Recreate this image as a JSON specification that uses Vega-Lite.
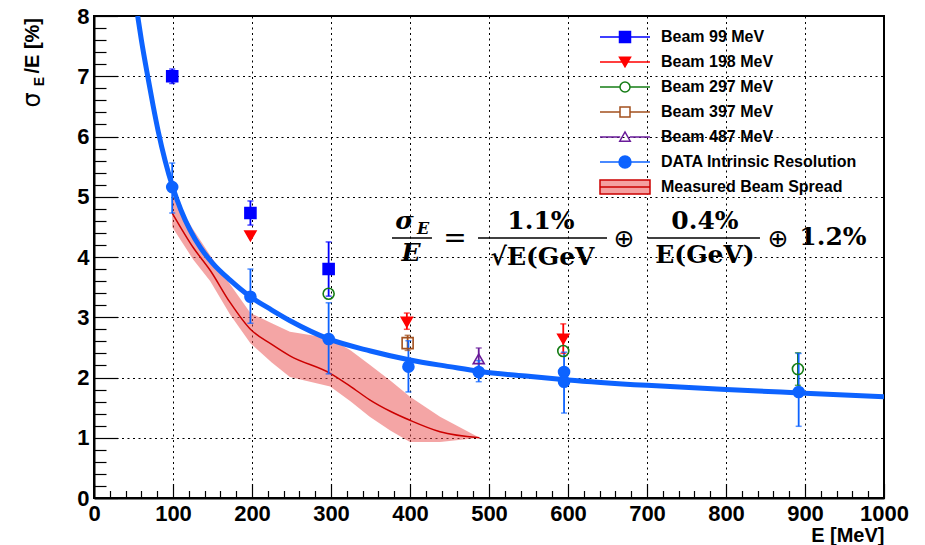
{
  "$schema": "https://vega.github.io/schema/vega-lite/v6.json",
  "width": 790,
  "height": 482,
  "autosize": {"type": "none"},
  "padding": {"left": 94, "top": 16, "right": 41, "bottom": 47},
  "background": "white",
  "config": {
    "view": {"stroke": "black", "strokeWidth": 2},
    "font": "Liberation Sans"
  },
  "resolve": {"scale": {"shape": "independent", "stroke": "independent", "fill": "independent", "color": "independent", "size": "independent"}},
  "datasets": {
    "fit": [
      {"E": 55.3, "y": 8.0}, {"E": 60, "y": 7.6}, {"E": 68.7, "y": 6.95}, {"E": 75, "y": 6.5},
      {"E": 81.4, "y": 6.08}, {"E": 90, "y": 5.6}, {"E": 99.6, "y": 5.16}, {"E": 110, "y": 4.78},
      {"E": 121.5, "y": 4.45}, {"E": 135, "y": 4.15}, {"E": 150, "y": 3.9}, {"E": 172, "y": 3.62},
      {"E": 198, "y": 3.34}, {"E": 225, "y": 3.12}, {"E": 250, "y": 2.93}, {"E": 297, "y": 2.64},
      {"E": 350, "y": 2.44}, {"E": 400, "y": 2.29}, {"E": 450, "y": 2.18}, {"E": 488, "y": 2.1},
      {"E": 550, "y": 2.02}, {"E": 600, "y": 1.96}, {"E": 700, "y": 1.87}, {"E": 800, "y": 1.8},
      {"E": 900, "y": 1.74}, {"E": 1000, "y": 1.68}
    ],
    "spread": [
      {"E": 99, "mid": 4.73, "lo": 4.5, "hi": 5.02},
      {"E": 126, "mid": 4.15, "lo": 3.95, "hi": 4.45},
      {"E": 147, "mid": 3.78, "lo": 3.6, "hi": 4.03},
      {"E": 172, "mid": 3.25, "lo": 3.05, "hi": 3.55},
      {"E": 198, "mid": 2.8, "lo": 2.57, "hi": 3.07},
      {"E": 225, "mid": 2.55, "lo": 2.25, "hi": 2.9},
      {"E": 248, "mid": 2.36, "lo": 2.01, "hi": 2.76},
      {"E": 299, "mid": 2.07, "lo": 1.85, "hi": 2.65},
      {"E": 325, "mid": 1.85, "lo": 1.6, "hi": 2.45},
      {"E": 349, "mid": 1.63, "lo": 1.35, "hi": 2.21},
      {"E": 375, "mid": 1.44, "lo": 1.12, "hi": 1.95},
      {"E": 400, "mid": 1.29, "lo": 0.93, "hi": 1.68},
      {"E": 438, "mid": 1.1, "lo": 0.93, "hi": 1.35},
      {"E": 488, "mid": 1.0, "lo": 1.0, "hi": 1.0}
    ],
    "pts": [
      {"series": "Beam 99 MeV", "E": 99, "y": 7.0, "lo": 6.88, "hi": 7.12},
      {"series": "Beam 99 MeV", "E": 198, "y": 4.73, "lo": 4.53, "hi": 4.93},
      {"series": "Beam 99 MeV", "E": 297, "y": 3.8, "lo": 3.35, "hi": 4.25},
      {"series": "Beam 198 MeV", "E": 198, "y": 4.35, "lo": null, "hi": null},
      {"series": "Beam 198 MeV", "E": 396, "y": 2.92, "lo": 2.8, "hi": 3.07},
      {"series": "Beam 198 MeV", "E": 594, "y": 2.64, "lo": 2.4, "hi": 2.89},
      {"series": "Beam 297 MeV", "E": 297, "y": 3.39, "lo": null, "hi": null},
      {"series": "Beam 297 MeV", "E": 594, "y": 2.44, "lo": null, "hi": null},
      {"series": "Beam 297 MeV", "E": 891, "y": 2.14, "lo": 1.87, "hi": 2.41},
      {"series": "Beam 397 MeV", "E": 397, "y": 2.57, "lo": 2.45, "hi": 2.7},
      {"series": "Beam 487 MeV", "E": 487, "y": 2.31, "lo": 2.15, "hi": 2.49},
      {"series": "DATA Intrinsic Resolution", "E": 99, "y": 5.16, "lo": 4.73, "hi": 5.56},
      {"series": "DATA Intrinsic Resolution", "E": 198, "y": 3.34, "lo": 2.9, "hi": 3.8},
      {"series": "DATA Intrinsic Resolution", "E": 297, "y": 2.64, "lo": 2.06, "hi": 3.24},
      {"series": "DATA Intrinsic Resolution", "E": 398, "y": 2.18, "lo": 1.76, "hi": 2.61},
      {"series": "DATA Intrinsic Resolution", "E": 487, "y": 2.09, "lo": 1.93, "hi": 2.28},
      {"series": "DATA Intrinsic Resolution", "E": 595, "y": 2.09, "lo": 1.41, "hi": 2.42},
      {"series": "DATA Intrinsic Resolution", "E": 595, "y": 1.93, "lo": null, "hi": null},
      {"series": "DATA Intrinsic Resolution", "E": 892, "y": 1.76, "lo": 1.19, "hi": 2.4}
    ],
    "legendRows": [
      {"series": "Beam 99 MeV"}, {"series": "Beam 198 MeV"}, {"series": "Beam 297 MeV"},
      {"series": "Beam 397 MeV"}, {"series": "Beam 487 MeV"}, {"series": "DATA Intrinsic Resolution"},
      {"series": "Measured Beam Spread"}
    ]
  },
  "layer": [
    {
      "data": {"name": "spread"},
      "mark": {"type": "area", "fill": "#ea4b4b", "opacity": 0.5, "interpolate": "linear"},
      "encoding": {
        "x": {
          "field": "E", "type": "quantitative",
          "scale": {"domain": [0, 1000], "nice": false, "zero": false},
          "axis": {
            "title": "E [MeV]",
            "values": [0,20,40,60,80,100,120,140,160,180,200,220,240,260,280,300,320,340,360,380,400,420,440,460,480,500,520,540,560,580,600,620,640,660,680,700,720,740,760,780,800,820,840,860,880,900,920,940,960,980,1000],
            "tickCount": 500,
            "format": "d",
            "labelExpr": "datum.value % 100 === 0 ? datum.label : ''",
            "tickSize": {"condition": {"test": "datum.value % 100 === 0", "value": -14.5}, "value": -7.5},
            "gridOpacity": {"condition": {"test": "datum.value % 100 === 0", "value": 1}, "value": 0},
            "grid": true, "gridColor": "black", "gridDash": [2, 3.5], "gridWidth": 1,
            "domainColor": "black", "domainWidth": 2,
            "tickColor": "black", "tickWidth": 1.2,
            "labelFont": "Liberation Sans", "labelFontWeight": "bold", "labelFontSize": 22, "labelColor": "black",
            "labelPadding": 20, "labelFlush": false, "labelOverlap": false,
            "titleFont": "Liberation Sans", "titleFontWeight": "bold", "titleFontSize": 20, "titleColor": "black",
            "titleAnchor": "end", "titleAlign": "right", "titleBaseline": "alphabetic", "titleY": 43
          }
        },
        "y": {
          "field": "lo", "type": "quantitative",
          "scale": {"domain": [0, 8], "nice": false},
          "axis": {
            "title": null,
            "values": [0,0.2,0.4,0.6,0.8,1,1.2,1.4,1.6,1.8,2,2.2,2.4,2.6,2.8,3,3.2,3.4,3.6,3.8,4,4.2,4.4,4.6,4.8,5,5.2,5.4,5.6,5.8,6,6.2,6.4,6.6,6.8,7,7.2,7.4,7.6,7.8,8],
            "tickCount": 500,
            "labelExpr": "datum.value % 1 === 0 ? format(datum.value, 'd') : ''",
            "tickSize": {"condition": {"test": "datum.value % 1 === 0", "value": -23.7}, "value": -12},
            "gridOpacity": {"condition": {"test": "datum.value % 1 === 0", "value": 1}, "value": 0},
            "grid": true, "gridColor": "black", "gridDash": [2, 3.5], "gridWidth": 1,
            "domainColor": "black", "domainWidth": 2,
            "tickColor": "black", "tickWidth": 1.2,
            "labelFont": "Liberation Sans", "labelFontWeight": "bold", "labelFontSize": 22, "labelColor": "black",
            "labelPadding": 28.7, "labelFlush": false, "labelOverlap": false
          }
        },
        "y2": {"field": "hi"}
      }
    },
    {
      "data": {"name": "spread"},
      "mark": {"type": "line", "color": "#cc0000", "strokeWidth": 1.5, "interpolate": "monotone"},
      "encoding": {
        "x": {"field": "E", "type": "quantitative"},
        "y": {"field": "mid", "type": "quantitative"}
      }
    },
    {
      "data": {"name": "fit"},
      "mark": {"type": "line", "color": "#0d63ff", "strokeWidth": 5, "interpolate": "monotone", "clip": true},
      "encoding": {
        "x": {"field": "E", "type": "quantitative"},
        "y": {"field": "y", "type": "quantitative"}
      }
    },
    {
      "data": {"name": "pts"},
      "transform": [{"filter": "datum.lo != null"}],
      "mark": {"type": "rule", "strokeWidth": 1.8},
      "encoding": {
        "x": {"field": "E", "type": "quantitative"},
        "y": {"field": "lo", "type": "quantitative"},
        "y2": {"field": "hi"},
        "stroke": {
          "field": "series", "type": "nominal", "legend": null,
          "scale": {
            "domain": ["Beam 99 MeV", "Beam 198 MeV", "Beam 297 MeV", "Beam 397 MeV", "Beam 487 MeV", "DATA Intrinsic Resolution", "Measured Beam Spread"],
            "range": ["#0000ff", "#ff0000", "#167d16", "#a3501e", "#6a1b9a", "#0d63ff", "#cc0000"]
          }
        }
      }
    },
    {
      "data": {"name": "pts"},
      "transform": [{"filter": "datum.lo != null"}, {"fold": ["lo", "hi"], "as": ["end", "v"]}],
      "mark": {"type": "tick", "orient": "horizontal", "size": 6, "thickness": 1.5},
      "encoding": {
        "x": {"field": "E", "type": "quantitative"},
        "y": {"field": "v", "type": "quantitative"},
        "color": {
          "field": "series", "type": "nominal", "legend": null,
          "scale": {
            "domain": ["Beam 99 MeV", "Beam 198 MeV", "Beam 297 MeV", "Beam 397 MeV", "Beam 487 MeV", "DATA Intrinsic Resolution", "Measured Beam Spread"],
            "range": ["#0000ff", "#ff0000", "#167d16", "#a3501e", "#6a1b9a", "#0d63ff", "#cc0000"]
          }
        }
      }
    },
    {
      "data": {"name": "pts"},
      "mark": {"type": "point", "strokeWidth": 1.6, "opacity": 1},
      "encoding": {
        "x": {"field": "E", "type": "quantitative"},
        "y": {"field": "y", "type": "quantitative"},
        "shape": {
          "field": "series", "type": "nominal", "legend": null,
          "scale": {
            "domain": ["Beam 99 MeV", "Beam 198 MeV", "Beam 297 MeV", "Beam 397 MeV", "Beam 487 MeV", "DATA Intrinsic Resolution"],
            "range": ["square", "triangle-down", "circle", "square", "triangle-up", "circle"]
          }
        },
        "size": {
          "field": "series", "type": "nominal", "legend": null,
          "scale": {
            "domain": ["Beam 99 MeV", "Beam 198 MeV", "Beam 297 MeV", "Beam 397 MeV", "Beam 487 MeV", "DATA Intrinsic Resolution"],
            "range": [121, 121, 100, 100, 121, 144]
          }
        },
        "fill": {
          "field": "series", "type": "nominal", "legend": null,
          "scale": {
            "domain": ["Beam 99 MeV", "Beam 198 MeV", "Beam 297 MeV", "Beam 397 MeV", "Beam 487 MeV", "DATA Intrinsic Resolution"],
            "range": ["#0000ff", "#ff0000", "transparent", "transparent", "transparent", "#0d63ff"]
          }
        },
        "stroke": {
          "field": "series", "type": "nominal", "legend": null,
          "scale": {
            "domain": ["Beam 99 MeV", "Beam 198 MeV", "Beam 297 MeV", "Beam 397 MeV", "Beam 487 MeV", "DATA Intrinsic Resolution"],
            "range": ["#0000ff", "#ff0000", "#167d16", "#a3501e", "#6a1b9a", "#0d63ff"]
          }
        }
      }
    },
    {
      "data": {"name": "legendRows"},
      "mark": {"type": "point", "opacity": 0},
      "encoding": {
        "shape": {
          "field": "series", "type": "nominal",
          "scale": {
            "domain": ["Beam 99 MeV", "Beam 198 MeV", "Beam 297 MeV", "Beam 397 MeV", "Beam 487 MeV", "DATA Intrinsic Resolution", "Measured Beam Spread"],
            "range": [
              "M-1,0H-0.22M0.22,0H1M-0.22,-0.22H0.22V0.22H-0.22Z",
              "M-1,0H1M-0.22,-0.19H0.22L0,0.19Z",
              "M-1,0H-0.2M0.2,0H1M-0.2,0A0.2,0.2,0,1,0,0.2,0A0.2,0.2,0,1,0,-0.2,0Z",
              "M-1,0H-0.2M0.2,0H1M-0.2,-0.2H0.2V0.2H-0.2Z",
              "M-1,0H-0.19M0.19,0H1M-0.21,0.17H0.21L0,-0.2Z",
              "M-1,0H1M-0.24,0A0.24,0.24,0,1,0,0.24,0A0.24,0.24,0,1,0,-0.24,0Z",
              "M-1,-0.28H1V0.28H-1ZM-1,0H1"
            ]
          },
          "legend": {
            "orient": "none", "legendX": 505, "legendY": 8.5, "title": null, "padding": 0,
            "symbolSize": 2500, "symbolStrokeWidth": 1.5, "symbolOpacity": 1,
            "labelFont": "Liberation Sans", "labelFontWeight": "bold", "labelFontSize": 16, "labelColor": "black",
            "labelOffset": 10, "labelLimit": 400, "rowPadding": 0, "clipHeight": 24.9
          }
        },
        "stroke": {
          "field": "series", "type": "nominal",
          "scale": {
            "domain": ["Beam 99 MeV", "Beam 198 MeV", "Beam 297 MeV", "Beam 397 MeV", "Beam 487 MeV", "DATA Intrinsic Resolution", "Measured Beam Spread"],
            "range": ["#0000ff", "#ff0000", "#167d16", "#a3501e", "#6a1b9a", "#0d63ff", "#cc0000"]
          },
          "legend": {
            "orient": "none", "legendX": 505, "legendY": 8.5, "title": null, "padding": 0,
            "symbolSize": 2500, "symbolStrokeWidth": 1.5, "symbolOpacity": 1,
            "labelFont": "Liberation Sans", "labelFontWeight": "bold", "labelFontSize": 16, "labelColor": "black",
            "labelOffset": 10, "labelLimit": 400, "rowPadding": 0, "clipHeight": 24.9
          }
        },
        "fill": {
          "field": "series", "type": "nominal",
          "scale": {
            "domain": ["Beam 99 MeV", "Beam 198 MeV", "Beam 297 MeV", "Beam 397 MeV", "Beam 487 MeV", "DATA Intrinsic Resolution", "Measured Beam Spread"],
            "range": ["#0000ff", "#ff0000", "transparent", "transparent", "transparent", "#0d63ff", "#f4a0a0"]
          },
          "legend": {
            "orient": "none", "legendX": 505, "legendY": 8.5, "title": null, "padding": 0,
            "symbolSize": 2500, "symbolStrokeWidth": 1.5, "symbolOpacity": 1,
            "labelFont": "Liberation Sans", "labelFontWeight": "bold", "labelFontSize": 16, "labelColor": "black",
            "labelOffset": 10, "labelLimit": 400, "rowPadding": 0, "clipHeight": 24.9
          }
        }
      }
    },
    {
      "data": {"values": [
        {"E": 565.8, "y": 4.6, "t": "1.1%"},
        {"E": 773.4, "y": 4.6, "t": "0.4%"},
        {"E": 935.4, "y": 4.33, "t": "1.2%"},
        {"E": 773.4, "y": 4.03, "t": "E(GeV)"},
        {"E": 567.7, "y": 4.0, "t": "√E(GeV"}
      ]},
      "mark": {"type": "text", "font": "DejaVu Serif", "fontWeight": "bold", "fontSize": 25, "align": "center", "baseline": "middle", "color": "black"},
      "encoding": {
        "x": {"field": "E", "type": "quantitative"},
        "y": {"field": "y", "type": "quantitative"},
        "text": {"field": "t"}
      }
    },
    {
      "data": {"values": [
        {"E": 393, "y": 4.6, "t": "σ"},
        {"E": 401.3, "y": 4.07, "t": "E"}
      ]},
      "mark": {"type": "text", "font": "DejaVu Serif", "fontWeight": "bold", "fontStyle": "italic", "fontSize": 25, "align": "center", "baseline": "middle", "color": "black"},
      "encoding": {
        "x": {"field": "E", "type": "quantitative"},
        "y": {"field": "y", "type": "quantitative"},
        "text": {"field": "t"}
      }
    },
    {
      "data": {"values": [
        {"E": 408.9, "y": 4.46, "t": "E"}
      ]},
      "mark": {"type": "text", "font": "DejaVu Serif", "fontWeight": "bold", "fontStyle": "italic", "fontSize": 16, "align": "left", "baseline": "middle", "color": "black"},
      "encoding": {
        "x": {"field": "E", "type": "quantitative"},
        "y": {"field": "y", "type": "quantitative"},
        "text": {"field": "t"}
      }
    },
    {
      "data": {"values": [
        {"E": 457, "y": 4.3, "t": "="}
      ]},
      "mark": {"type": "text", "font": "DejaVu Serif", "fontSize": 28, "align": "center", "baseline": "middle", "color": "black"},
      "encoding": {
        "x": {"field": "E", "type": "quantitative"},
        "y": {"field": "y", "type": "quantitative"},
        "text": {"field": "t"}
      }
    },
    {
      "data": {"values": [
        {"E": 670.9, "y": 4.3, "t": "⊕"},
        {"E": 865.8, "y": 4.3, "t": "⊕"}
      ]},
      "mark": {"type": "text", "font": "DejaVu Sans", "fontSize": 25, "align": "center", "baseline": "middle", "color": "black"},
      "encoding": {
        "x": {"field": "E", "type": "quantitative"},
        "y": {"field": "y", "type": "quantitative"},
        "text": {"field": "t"}
      }
    },
    {
      "data": {"values": [
        {"E": 377.2, "E2": 427.8, "y": 4.315},
        {"E": 486.1, "E2": 649.4, "y": 4.315},
        {"E": 701.3, "E2": 843, "y": 4.315}
      ]},
      "mark": {"type": "rule", "color": "black", "strokeWidth": 1.6},
      "encoding": {
        "x": {"field": "E", "type": "quantitative"},
        "x2": {"field": "E2"},
        "y": {"field": "y", "type": "quantitative"}
      }
    },
    {
      "data": {"values": [
        {"E": -77.2, "y": 6.606, "t": "σ"}
      ]},
      "mark": {"type": "text", "font": "DejaVu Sans", "fontSize": 24, "angle": 270, "align": "center", "baseline": "middle", "color": "black"},
      "encoding": {
        "x": {"field": "E", "type": "quantitative"},
        "y": {"field": "y", "type": "quantitative"},
        "text": {"field": "t"}
      }
    },
    {
      "data": {"values": [
        {"E": -68.4, "y": 6.913, "t": "E"}
      ]},
      "mark": {"type": "text", "font": "Liberation Sans", "fontWeight": "bold", "fontSize": 14, "angle": 270, "align": "center", "baseline": "middle", "color": "black"},
      "encoding": {
        "x": {"field": "E", "type": "quantitative"},
        "y": {"field": "y", "type": "quantitative"},
        "text": {"field": "t"}
      }
    },
    {
      "data": {"values": [
        {"E": -77.2, "y": 7.967, "t": "/E [%]"}
      ]},
      "mark": {"type": "text", "font": "Liberation Sans", "fontWeight": "bold", "fontSize": 20, "angle": 270, "align": "right", "baseline": "middle", "color": "black"},
      "encoding": {
        "x": {"field": "E", "type": "quantitative"},
        "y": {"field": "y", "type": "quantitative"},
        "text": {"field": "t"}
      }
    }
  ]
}
